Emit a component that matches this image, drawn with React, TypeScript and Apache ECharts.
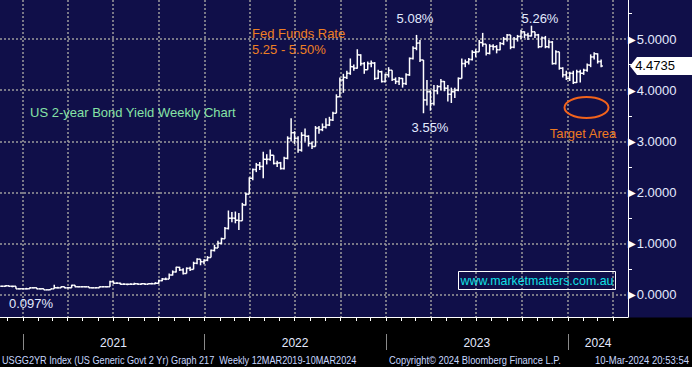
import React, { useEffect, useRef } from "react";
import * as echarts from "echarts";

// ---------- data (weekly bars, US 2-year yield, %) ----------
const FIRST_WEEK = Date.UTC(2020, 10, 20); // first weekly bar (Fri 20 Nov 2020)
const WEEK_MS = 7 * 24 * 3600 * 1000;

const closes = [
  0.17, 0.18, 0.17, 0.17, 0.12, 0.12, 0.12, 0.12, 0.14, 0.14,
  0.12, 0.12, 0.10, 0.10, 0.12, 0.14, 0.14, 0.16, 0.14, 0.14,
  0.19, 0.16, 0.16, 0.16, 0.16, 0.14, 0.14, 0.14, 0.16, 0.16,
  0.16, 0.26, 0.23, 0.23, 0.21, 0.21, 0.21, 0.21, 0.22, 0.21,
  0.22, 0.21, 0.22, 0.22, 0.23, 0.28, 0.31, 0.31, 0.39, 0.45,
  0.54, 0.49, 0.42, 0.52, 0.50, 0.62, 0.70, 0.65, 0.68, 0.73,
  0.87, 0.92, 1.01, 1.10, 1.30, 1.50, 1.50, 1.46, 1.45, 1.76,
  1.97, 2.28, 2.45, 2.54, 2.51, 2.65, 2.65, 2.73, 2.57, 2.58,
  2.47, 2.67, 3.06, 3.17, 3.06, 2.83, 3.12, 3.10, 2.96, 2.90,
  3.26, 3.23, 3.28, 3.32, 3.42, 3.55, 3.87, 4.20, 4.25,
  4.33, 4.46, 4.43, 4.69, 4.52, 4.40, 4.52, 4.53, 4.23, 4.36,
  4.17, 4.30, 4.39, 4.21, 4.17, 4.23, 4.13, 4.30, 4.62, 4.82,
  4.92, 4.59, 3.81, 3.97, 3.74, 3.99, 4.07, 4.17, 4.04, 3.92,
  3.97, 4.00, 4.23, 4.52, 4.55, 4.60, 4.74, 4.75, 4.93, 4.90,
  4.72, 4.86, 4.85, 4.79, 4.91, 5.00, 5.08, 4.84, 5.00, 5.05,
  5.14, 5.08, 5.06,
  5.14, 5.08, 4.85, 5.02, 4.85, 4.94,
  4.52, 4.75, 4.43, 4.30, 4.23, 4.33, 4.15, 4.36, 4.33, 4.39,
  4.49, 4.65, 4.71, 4.56, 4.4735,
];

const highs = [
  0.18, 0.19, 0.18, 0.18, 0.17, 0.13, 0.13, 0.14, 0.15, 0.15,
  0.14, 0.13, 0.12, 0.11, 0.12, 0.20, 0.16, 0.17, 0.16, 0.15,
  0.20, 0.19, 0.17, 0.17, 0.17, 0.16, 0.15, 0.15, 0.17, 0.17,
  0.17, 0.28, 0.27, 0.25, 0.24, 0.23, 0.22, 0.23, 0.24, 0.23,
  0.23, 0.23, 0.23, 0.24, 0.25, 0.30, 0.33, 0.34, 0.42, 0.48,
  0.55, 0.55, 0.52, 0.54, 0.55, 0.65, 0.72, 0.70, 0.70, 0.76,
  0.89, 0.98, 1.06, 1.12, 1.33, 1.65, 1.62, 1.63, 1.60, 1.80,
  2.00, 2.30, 2.47, 2.58, 2.60, 2.80, 2.75, 2.84, 2.72, 2.62,
  2.60, 2.70, 3.10, 3.45, 3.20, 3.10, 3.18, 3.25, 3.12, 3.00,
  3.30, 3.30, 3.35, 3.45, 3.48, 3.58, 3.92, 4.25, 4.32,
  4.38, 4.62, 4.50, 4.80, 4.70, 4.55, 4.56, 4.58, 4.55, 4.40,
  4.38, 4.32, 4.45, 4.38, 4.25, 4.26, 4.24, 4.33, 4.64, 4.86,
  5.08, 4.98, 4.59, 4.20, 4.00, 4.10, 4.10, 4.22, 4.18, 4.10,
  4.05, 4.05, 4.25, 4.62, 4.60, 4.63, 4.78, 4.80, 4.98, 5.12,
  4.90, 4.90, 4.90, 4.88, 4.94, 5.04, 5.10, 5.08, 5.04, 5.08,
  5.18, 5.15, 5.12,
  5.26, 5.14, 5.10, 5.05, 5.06, 4.98,
  4.96, 4.78, 4.75, 4.45, 4.38, 4.36, 4.38, 4.40, 4.40, 4.42,
  4.52, 4.70, 4.74, 4.72, 4.60,
];

const lows = [
  0.16, 0.16, 0.16, 0.15, 0.12, 0.11, 0.11, 0.11, 0.12, 0.13,
  0.11, 0.11, 0.10, 0.097, 0.10, 0.12, 0.13, 0.14, 0.13, 0.13,
  0.14, 0.15, 0.15, 0.15, 0.15, 0.13, 0.13, 0.13, 0.14, 0.15,
  0.15, 0.16, 0.22, 0.22, 0.20, 0.20, 0.19, 0.20, 0.20, 0.20,
  0.20, 0.20, 0.21, 0.21, 0.21, 0.22, 0.27, 0.29, 0.31, 0.38,
  0.44, 0.47, 0.40, 0.42, 0.47, 0.50, 0.60, 0.58, 0.60, 0.66,
  0.73, 0.85, 0.92, 0.99, 1.10, 1.28, 1.42, 1.40, 1.27, 1.45,
  1.75, 1.97, 2.24, 2.40, 2.44, 2.28, 2.55, 2.62, 2.55, 2.50,
  2.45, 2.45, 2.65, 3.00, 2.95, 2.78, 2.80, 3.00, 2.90, 2.85,
  2.90, 3.15, 3.20, 3.25, 3.30, 3.40, 3.55, 3.90, 3.95,
  4.22, 4.30, 4.38, 4.42, 4.48, 4.32, 4.40, 4.45, 4.20, 4.22,
  4.15, 4.15, 4.25, 4.18, 4.12, 4.10, 4.05, 4.10, 4.28, 4.60,
  4.78, 4.55, 3.55, 3.70, 3.60, 3.70, 3.92, 4.00, 3.98, 3.78,
  3.75, 3.85, 3.98, 4.23, 4.45, 4.50, 4.58, 4.65, 4.75, 4.85,
  4.68, 4.70, 4.78, 4.72, 4.78, 4.88, 4.95, 4.80, 4.82, 4.95,
  5.00, 5.02, 4.98,
  5.05, 5.02, 4.82, 4.85, 4.82, 4.82,
  4.50, 4.50, 4.40, 4.25, 4.20, 4.18, 4.12, 4.14, 4.15, 4.30,
  4.36, 4.45, 4.60, 4.52, 4.45,
];

// ---------- axis ticks / labels ----------
const X_MIN = Date.UTC(2020, 10, 16);
const X_MAX = Date.UTC(2024, 4, 1);
const Y_MIN = -0.43;
const Y_MAX = 5.762;

const yLabelValues = [0, 1, 2, 3, 4, 5];
const yMinorValues = [0.5, 1.5, 2.5, 3.5, 4.5, 5.5];
const yearStarts = [Date.UTC(2021, 0, 1), Date.UTC(2022, 0, 1), Date.UTC(2023, 0, 1), Date.UTC(2024, 0, 1)];
const yearLabelAt = [Date.UTC(2021, 6, 2), Date.UTC(2022, 6, 2), Date.UTC(2023, 6, 2), Date.UTC(2024, 2, 2)];
const quarterStarts = [
  Date.UTC(2021, 0, 1), Date.UTC(2021, 3, 1), Date.UTC(2021, 6, 1), Date.UTC(2021, 9, 1),
  Date.UTC(2022, 0, 1), Date.UTC(2022, 3, 1), Date.UTC(2022, 6, 1), Date.UTC(2022, 9, 1),
  Date.UTC(2023, 0, 1), Date.UTC(2023, 3, 1), Date.UTC(2023, 6, 1), Date.UTC(2023, 9, 1),
  Date.UTC(2024, 0, 1), Date.UTC(2024, 3, 1),
];
const monthStarts: number[] = [];
for (let y = 2020; y <= 2024; y++) {
  for (let m = 0; m < 12; m++) {
    const t = Date.UTC(y, m, 1);
    if (t > X_MIN && t < X_MAX) monthStarts.push(t);
  }
}

const NAVY = "#100f49";
const FONT = "Liberation Sans, Arial, sans-serif";
const GRID_LINE = { color: "#9c9c9c", type: [2, 2] as number[], width: 1.5 };

export default function App() {
  const ref = useRef<HTMLDivElement>(null);

  useEffect(() => {
    if (!ref.current) return;
    const chart = echarts.init(ref.current, undefined, { renderer: "svg" });

    const rows = closes.map((c, i) => [
      FIRST_WEEK + i * WEEK_MS,
      i === 0 ? c : closes[i - 1],
      c,
      lows[i],
      highs[i],
    ]);
    const last = closes[closes.length - 1];

    const renderItem = (_params: any, api: any) => {
      const t = api.value(0);
      const o = api.value(1);
      const c = api.value(2);
      const l = api.value(3);
      const h = api.value(4);
      const lo = Math.min(l, o, c);
      const hi = Math.max(h, o, c);
      const pLo = api.coord([t, lo]);
      const pHi = api.coord([t, hi]);
      const pO = api.coord([t, o]);
      const pC = api.coord([t, c]);
      const half = Math.abs(api.coord([t + WEEK_MS / 2, c])[0] - pC[0]);
      const style = { stroke: "#ffffff", lineWidth: 1.5 };
      return {
        type: "group",
        children: [
          { type: "line", shape: { x1: pLo[0], y1: pLo[1], x2: pHi[0], y2: pHi[1] }, style },
          { type: "line", shape: { x1: pO[0] - half, y1: pO[1], x2: pO[0], y2: pO[1] }, style },
          { type: "line", shape: { x1: pC[0], y1: pC[1], x2: pC[0] + half, y2: pC[1] }, style },
        ],
      };
    };

    const txt = (text: string, x: number, y: number, fill: string, fontSize: number, align = "left", extra: any = {}) => ({
      type: "text",
      x,
      y,
      z: 10,
      ...extra,
      style: { text, fill, fontSize, fontFamily: FONT, align, verticalAlign: "middle" },
    });

    const xBase = { type: "value", min: X_MIN, max: X_MAX, position: "bottom", scale: true };

    chart.setOption({
      animation: false,
      backgroundColor: NAVY,
      grid: { left: 0, right: 64, top: 0, bottom: 50, containLabel: false },
      xAxis: [
        {
          ...xBase,
          axisLine: { show: true, onZero: false, lineStyle: { color: "#ffffff", width: 1 } },
          axisTick: { show: true, customValues: monthStarts, length: 4, lineStyle: { color: "#ffffff" } },
          axisLabel: { show: false },
          splitLine: { show: false },
        },
        {
          ...xBase,
          axisLine: { show: false, onZero: false },
          axisTick: { show: false, customValues: quarterStarts },
          axisLabel: { show: false },
          splitLine: { show: true, lineStyle: GRID_LINE },
        },
        {
          ...xBase,
          offset: 17,
          axisLine: { show: false, onZero: false },
          axisTick: { show: true, customValues: yearStarts, length: 16, lineStyle: { color: "#8a8a8a" } },
          axisLabel: {
            show: true,
            customValues: yearLabelAt,
            formatter: (v: number) => String(new Date(v).getUTCFullYear()),
            color: "#e4eaff",
            fontSize: 12,
            fontFamily: FONT,
            margin: 3,
          },
          splitLine: { show: false },
        },
      ],
      yAxis: [
        {
          type: "value",
          position: "right",
          min: Y_MIN,
          max: Y_MAX,
          axisLine: { show: true, lineStyle: { color: "#ffffff", width: 1 } },
          axisTick: { show: true, customValues: yMinorValues, length: 4, inside: false, lineStyle: { color: "#ffffff" } },
          axisLabel: { show: false },
          splitLine: { show: false },
        },
        {
          type: "value",
          position: "right",
          min: Y_MIN,
          max: Y_MAX,
          axisLine: { show: false },
          axisTick: { show: false, customValues: yLabelValues },
          axisLabel: {
            show: true,
            customValues: yLabelValues,
            margin: 0,
            formatter: (v: number) => `{a|▶}{b|${v.toFixed(4)}}`,
            rich: {
              a: { color: "#ffffff", fontSize: 10, fontFamily: "DejaVu Sans" },
              b: { color: "#e4eaff", fontSize: 13, fontFamily: FONT, padding: [0, 0, 0, 1] },
            },
          },
          splitLine: { show: true, lineStyle: GRID_LINE },
        },
      ],
      series: [
        {
          type: "custom",
          xAxisIndex: 0,
          yAxisIndex: 0,
          data: rows,
          encode: { x: 0, y: [1, 2, 3, 4] },
          renderItem,
          clip: true,
          z: 5,
          markPoint: {
            silent: true,
            symbol: "path://M0,9L7,0L62,0L62,18L7,18Z",
            symbolSize: [62, 18],
            symbolKeepAspect: false,
            symbolOffset: [33, 0],
            itemStyle: { color: "#ffffff" },
            label: {
              show: true,
              position: "inside",
              offset: [-6, 0],
              color: "#000000",
              fontSize: 13,
              fontFamily: FONT,
              formatter: () => String(last),
            },
            data: [{ coord: [X_MAX, last], value: last }],
          },
        },
      ],
      graphic: [
        {
          type: "rect",
          z: -1,
          shape: { x: 0, y: 317.5, width: 692, height: 50 },
          style: { fill: "#000000" },
        },
        txt("Fed Funds Rate", 252, 33, "#ee7f24", 13),
        txt("5.25 - 5.50%", 252, 49, "#ee7f24", 13),
        txt("5.08%", 415, 18, "#e2eaff", 13, "center"),
        txt("5.26%", 540, 18, "#e2eaff", 13, "center"),
        txt("3.55%", 430, 127, "#e2eaff", 13, "center"),
        txt("0.097%", 9, 303, "#e2eaff", 13),
        txt("US 2-year Bond Yield Weekly Chart", 30, 112, "#86e3a6", 13),
        txt("Target Area", 583, 133, "#ee7a22", 13, "center"),
        {
          type: "ellipse",
          z: 10,
          shape: { cx: 586.5, cy: 107.5, rx: 22, ry: 10.5 },
          style: { fill: "none", stroke: "#f2631c", lineWidth: 2 },
        },
        {
          type: "rect",
          z: 10,
          shape: { x: 458.5, y: 271.5, width: 157, height: 18 },
          style: { fill: "none", stroke: "#ffffff", lineWidth: 1 },
        },
        txt("www.marketmatters.com.au", 537, 280.5, "#13e0e6", 12.4, "center"),
        txt("USGG2YR Index (US Generic Govt 2 Yr) Graph 217  Weekly 12MAR2019-10MAR2024", 2, 360, "#c8d8ff", 10, "left", { scaleX: 0.915 }),
        txt("Copyright\u00a9 2024 Bloomberg Finance L.P.", 389, 360, "#c8d8ff", 10, "left", { scaleX: 0.935 }),
        txt("10-Mar-2024 20:53:54", 689, 360, "#c8d8ff", 10, "right", { scaleX: 0.95 }),
      ],
    });

    return () => chart.dispose();
  }, []);

  return <div ref={ref} style={{ position: "absolute", left: 0, top: 0, width: 692, height: 367 }} />;
}
